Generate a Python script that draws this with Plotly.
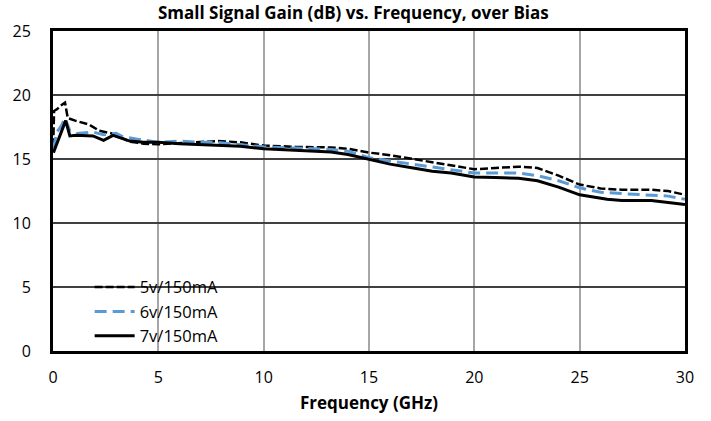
import plotly.graph_objects as go

# 5v/150mA
freq_5v = [0.01, 0.05, 0.2, 0.35, 0.57, 0.7, 1.05, 1.7, 2.2, 2.8, 3.65, 4.3, 5.0, 6.0, 7.0, 7.8, 8.9, 10.0,
           11.5, 13.2, 14.0, 15.0, 16.0, 17.1, 18.0, 18.9, 20.0, 21.0, 22.1, 23.0, 24.0, 25.0, 26.0,
           27.0, 28.4, 29.2, 30.0]
gain_5v = [16.0, 18.75, 18.9, 19.15, 19.4, 18.2, 18.0, 17.7, 17.2, 17.0, 16.35, 16.2, 16.15, 16.25, 16.35,
           16.4, 16.3, 16.05, 15.95, 15.9, 15.8, 15.5, 15.3, 15.0, 14.7, 14.45, 14.2, 14.3, 14.4,
           14.3, 13.7, 13.0, 12.7, 12.6, 12.6, 12.5, 12.2]

# 6v/150mA
freq_6v = [0.02, 0.18, 0.4, 0.57, 0.8, 1.1, 1.9, 2.4, 3.0, 3.3, 4.0, 5.0, 6.0, 7.0, 7.8, 9.0, 10.0,
           11.5, 13.2, 14.0, 15.0, 16.0, 17.1, 18.0, 18.9, 20.0, 21.0, 22.1, 23.0, 24.0, 25.0,
           26.0, 27.0, 28.4, 29.2, 30.0]
gain_6v = [15.8, 17.1, 17.6, 18.2, 17.2, 17.0, 17.1, 16.9, 17.0, 16.75, 16.55, 16.3, 16.4, 16.3, 16.3,
           16.1, 15.95, 15.85, 15.75, 15.6, 15.1, 14.85, 14.6, 14.4, 14.2, 13.9, 13.9, 13.9,
           13.7, 13.3, 12.75, 12.4, 12.3, 12.2, 12.1, 11.85]

# 7v/150mA
freq_7v = [0.02, 0.33, 0.6, 0.8, 1.1, 1.9, 2.4, 2.85, 3.65, 4.3, 5.0, 6.0, 7.0, 8.0, 8.9, 10.0,
           11.5, 13.2, 14.0, 15.0, 16.0, 17.1, 18.0, 18.9, 20.0, 21.0, 22.1, 23.0, 24.0, 25.0,
           26.3, 27.0, 28.4, 29.2, 30.0]
gain_7v = [15.5, 16.8, 18.0, 16.8, 16.85, 16.8, 16.45, 16.85, 16.4, 16.3, 16.3, 16.2, 16.15, 16.05,
           16.0, 15.8, 15.7, 15.55, 15.35, 14.95, 14.6, 14.3, 14.05, 13.9, 13.6, 13.55, 13.5,
           13.3, 12.8, 12.2, 11.85, 11.75, 11.75, 11.6, 11.45]

x_ticks = [0, 5, 10, 15, 20, 25, 30]
y_ticks = [0, 5, 10, 15, 20, 25]

FONT = "Open Sans"

fig = go.Figure()
fig.add_trace(go.Scatter(x=freq_5v, y=gain_5v, mode="lines", name="5v/150mA",
                         line=dict(color="black", width=2.5, dash="8px,3px")))
fig.add_trace(go.Scatter(x=freq_6v, y=gain_6v, mode="lines", name="6v/150mA",
                         line=dict(color="#5B9BD5", width=3, dash="12px,6px")))
fig.add_trace(go.Scatter(x=freq_7v, y=gain_7v, mode="lines", name="7v/150mA",
                         line=dict(color="black", width=3)))

# white legend backdrop (hides gridlines behind the legend, stays under the axis frame)
fig.add_shape(type="rect", xref="paper", yref="paper", x0=0.019, x1=0.332, y0=0.02, y1=0.237,
              fillcolor="white", line=dict(width=0), layer="between")

fig.update_layout(
    width=711, height=421,
    margin=dict(l=53, r=26, t=31, b=70),
    paper_bgcolor="white", plot_bgcolor="white",
    font=dict(family=FONT, color="black"),
    title=dict(text="<b>Small Signal Gain (dB) vs. Frequency, over Bias</b>",
               x=0.497, xanchor="center", y=1 - 13 / 421, yanchor="middle",
               font=dict(size=17, family=FONT, color="black")),
    showlegend=True,
    legend=dict(x=0.058, y=0.254, xanchor="left", yanchor="top",
                bgcolor="rgba(0,0,0,0)", borderwidth=0, font=dict(size=16.5, family=FONT),
                tracegroupgap=0, itemwidth=40),
)
fig.update_xaxes(range=[0, 30], tickvals=x_ticks, ticktext=[str(v) for v in x_ticks],
                 showgrid=True, gridcolor="#a6a6a6", gridwidth=1.5,
                 showline=True, linecolor="black", linewidth=3, mirror=True,
                 ticks="", zeroline=False, tickfont=dict(size=16, family=FONT),
                 ticklabelstandoff=10, automargin=False,
                 title=dict(text="<b>Frequency (GHz)</b>", font=dict(size=17, family=FONT),
                            standoff=10))
fig.update_yaxes(range=[0, 25], tickvals=y_ticks, ticktext=[str(v) for v in y_ticks],
                 showgrid=True, gridcolor="#404040", gridwidth=1.5,
                 showline=True, linecolor="black", linewidth=3, mirror=True,
                 ticks="", zeroline=False, tickfont=dict(size=16, family=FONT),
                 ticklabelstandoff=16, automargin=False)

fig.write_html("out.html", config={"displayModeBar": False},
               post_script="document.body.style.margin='0';")
